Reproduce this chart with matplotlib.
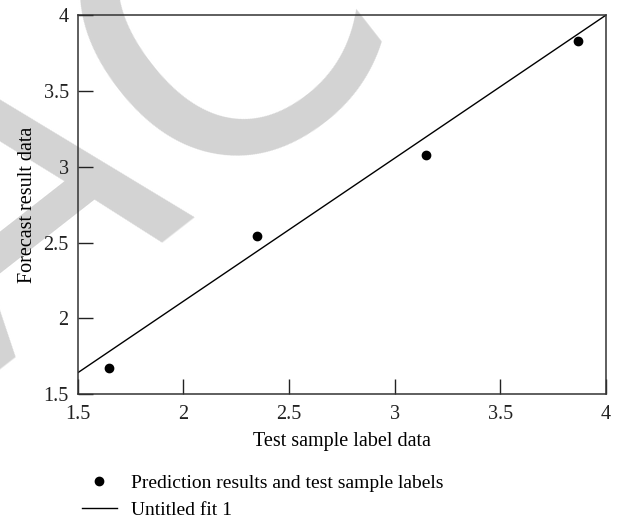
import matplotlib
matplotlib.use('Agg')
import matplotlib.pyplot as plt

# Data
test_labels = [1.65, 2.35, 3.15, 3.87]
predictions = [1.67, 2.54, 3.08, 3.83]
fit_x = [1.5, 4.0]
fit_y = [1.64, 4.0]
ticks = [1.5, 2, 2.5, 3, 3.5, 4]
tick_labels = ['1.5', '2', '2.5', '3', '3.5', '4']

plt.rcParams['font.family'] = ['Liberation Serif', 'DejaVu Serif']
plt.rcParams['font.size'] = 14.5

fig = plt.figure(figsize=(6.27, 5.21), dpi=100)
ax = fig.add_axes([0.124, 0.2438, 0.842, 0.7268])
ax.set_facecolor('none')

# watermark behind everything
fig.text(0.045, 0.665, 'RETRACTED', fontsize=290, color='#d3d3d3',
         family='DejaVu Sans', rotation=38, ha='center', va='center',
         zorder=-5)

ax.plot(test_labels, predictions, 'o', color='black', markersize=6,
        label='Prediction results and test sample labels')
ax.plot(fit_x, fit_y, '-', color='black', linewidth=1, label='Untitled fit 1')

ax.set_xlim(1.5, 4)
ax.set_ylim(1.5, 4)
ax.set_xticks(ticks)
ax.set_xticklabels(tick_labels)
ax.set_yticks(ticks)
ax.set_yticklabels(tick_labels)
ax.tick_params(direction='in', length=11, width=1, top=False, right=False,
               labelsize=14.5, colors='#222222')
ax.tick_params(axis='x', pad=8)
ax.tick_params(axis='y', pad=6.5)
for s in ax.spines.values():
    s.set_linewidth(1.1)
    s.set_color('#333333')

ax.set_xlabel('Test sample label data', fontsize=14.5, labelpad=6)
ax.set_ylabel('Forecast result data', fontsize=14.5, labelpad=5)

fig.legend(loc='upper left', bbox_to_anchor=(0.115, 0.109), frameon=False,
           handlelength=1.8, handletextpad=0.75, borderpad=0,
           labelspacing=0.5, fontsize=14)

fig.savefig('out.png', dpi=100)
